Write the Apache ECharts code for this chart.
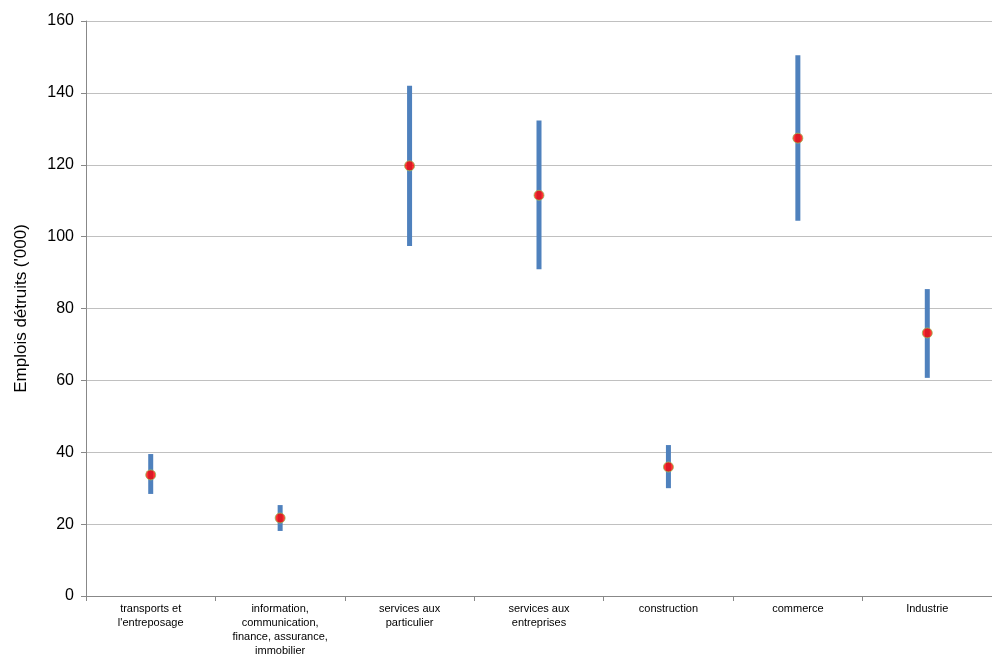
<!DOCTYPE html>
<html>
<head>
<meta charset="utf-8">
<script src="https://cdn.jsdelivr.net/npm/echarts@6/dist/echarts.min.js"></script>
<style>html,body{margin:0;padding:0;background:#fff;overflow:hidden}#chart{width:992px;height:666px}</style>
</head>
<body>
<div id="chart"></div>
<script>
const categories = ["transports et\nl'entreposage", "information,\ncommunication,\nfinance, assurance,\nimmobilier", "services aux\nparticulier", "services aux\nentreprises", "construction", "commerce", "Industrie"];
const lowValues = [28.4, 18.1, 97.4, 90.9, 30.0, 104.4, 60.7];
const highValues = [39.5, 25.3, 142.0, 132.3, 42.0, 150.5, 85.4];
const centralValues = [33.7, 21.7, 119.7, 111.5, 35.9, 127.4, 73.2];

const chart = echarts.init(document.getElementById("chart"));

chart.setOption({
  animation: false,
  grid: { left: 86, right: -12, top: 21, bottom: 70 },
  xAxis: {
    type: "category",
    data: categories,
    axisLine: { lineStyle: { color: "#888" } },
    axisTick: { show: true, length: 5, lineStyle: { color: "#888" } },
    axisLabel: { color: "#000", fontFamily: "Arial, Liberation Sans", fontSize: 11, interval: 0, lineHeight: 14, margin: 6 }
  },
  yAxis: {
    type: "value",
    min: 0, max: 160, interval: 20,
    name: "Emplois détruits ('000)",
    nameLocation: "middle",
    nameGap: 56,
    nameTextStyle: { color: "#000", fontFamily: "Arial, Liberation Sans", fontSize: 17 },
    axisLine: { show: true, lineStyle: { color: "#888" } },
    axisTick: { show: true, length: 5, lineStyle: { color: "#888" } },
    axisLabel: { color: "#000", fontFamily: "Arial, Liberation Sans", fontSize: 16, margin: 12 },
    splitLine: { lineStyle: { color: "#c0c0c0" } }
  },
  series: [
    {
      type: "custom",
      data: categories.map((c, i) => [i, lowValues[i], highValues[i]]),
      renderItem: (params, api) => {
        const lo = api.coord([api.value(0), api.value(1)]);
        const hi = api.coord([api.value(0), api.value(2)]);
        return {
          type: "rect",
          shape: { x: lo[0] - 2.5, y: hi[1], width: 5, height: lo[1] - hi[1] },
          style: { fill: "#4f81bd" }
        };
      }
    },
    {
      type: "scatter",
      data: centralValues,
      symbolSize: 10,
      itemStyle: { color: "#ff0000", borderColor: "#9bbb59", borderWidth: 1 }
    }
  ]
});
</script>
</body>
</html>
